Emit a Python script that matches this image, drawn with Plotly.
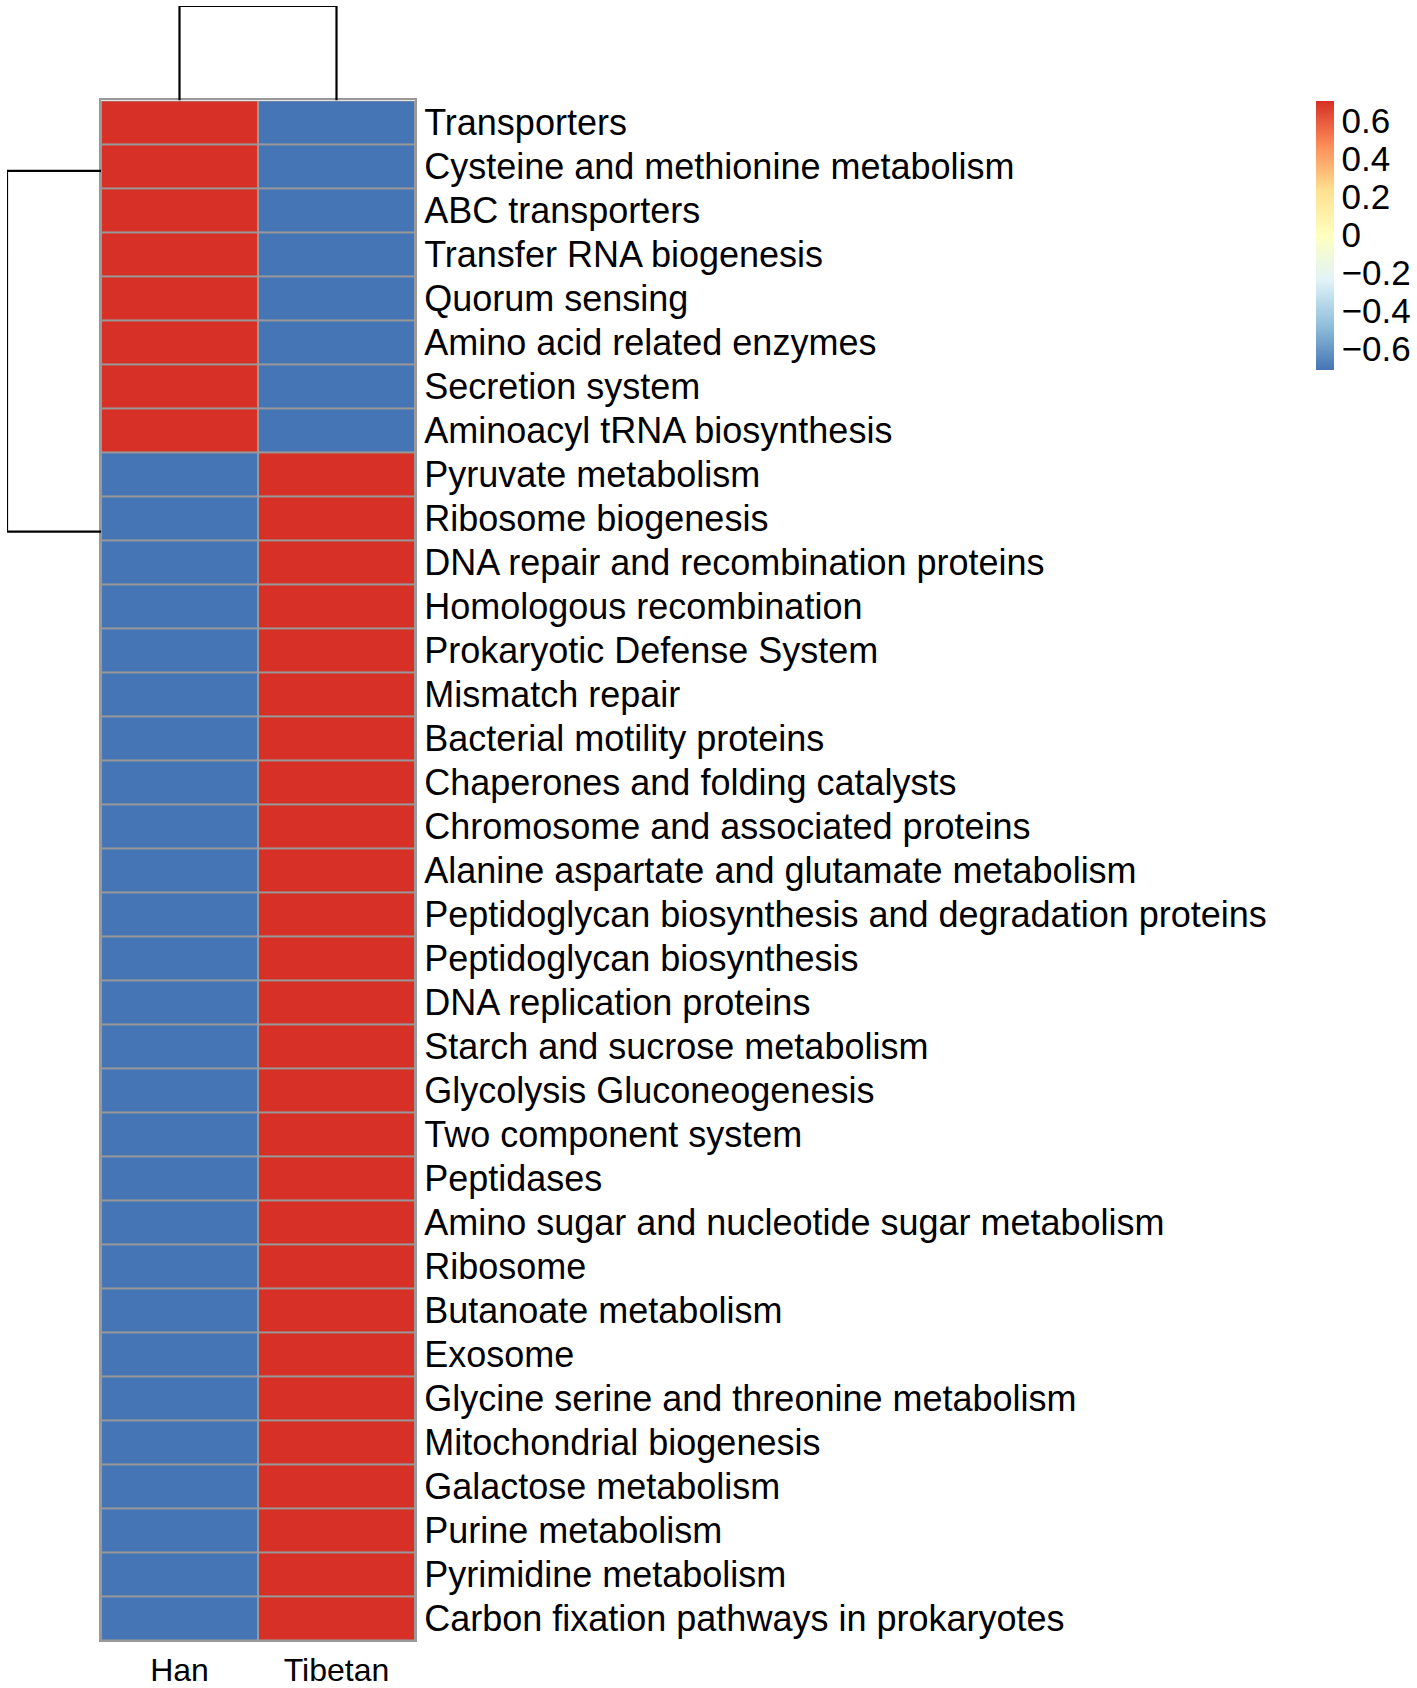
import plotly.graph_objects as go

W, H = 1417, 1688

pathways = [
    "Transporters", "Cysteine and methionine metabolism", "ABC transporters",
    "Transfer RNA biogenesis", "Quorum sensing", "Amino acid related enzymes",
    "Secretion system", "Aminoacyl tRNA biosynthesis", "Pyruvate metabolism",
    "Ribosome biogenesis", "DNA repair and recombination proteins",
    "Homologous recombination", "Prokaryotic Defense System", "Mismatch repair",
    "Bacterial motility proteins", "Chaperones and folding catalysts",
    "Chromosome and associated proteins", "Alanine aspartate and glutamate metabolism",
    "Peptidoglycan biosynthesis and degradation proteins", "Peptidoglycan biosynthesis",
    "DNA replication proteins", "Starch and sucrose metabolism",
    "Glycolysis Gluconeogenesis", "Two component system", "Peptidases",
    "Amino sugar and nucleotide sugar metabolism", "Ribosome", "Butanoate metabolism",
    "Exosome", "Glycine serine and threonine metabolism", "Mitochondrial biogenesis",
    "Galactose metabolism", "Purine metabolism", "Pyrimidine metabolism",
    "Carbon fixation pathways in prokaryotes",
]
groups = ["Han", "Tibetan"]

# row-scaled values (z-scores across the two groups)
han = [0.7071] * 8 + [-0.7071] * 27
tibetan = [-0.7071] * 8 + [0.7071] * 27

# dendrogram data
col_leaf_pos = [0, 1]
col_merge_height = 1.0
row_branch_pos = [1.1, 9.3]   # positions of the two row clusters (row units)
row_merge_height = 1.0

cbar_ticks = [0.6, 0.4, 0.2, 0, -0.2, -0.4, -0.6]
cbar_ticktext = ["0.6", "0.4", "0.2", "0", "\u22120.2", "\u22120.4", "\u22120.6"]

colorscale = [
    [0.0, "#4575B4"], [1/6, "#91BFDB"], [2/6, "#E0F3F8"], [3/6, "#FFFFBF"],
    [4/6, "#FEE090"], [5/6, "#FC8D59"], [1.0, "#D73027"],
]

FONT = "Liberation Sans, Arial, sans-serif"

def px_x(p):
    return p / W

def px_y(p):
    return 1 - p / H

hm_left, hm_right, hm_top, hm_bottom = 101, 415, 101, 1650

z = [[h, t] for h, t in zip(han, tibetan)]

fig = go.Figure()
fig.add_trace(go.Heatmap(
    z=z, x=groups, y=pathways,
    colorscale=colorscale, zmin=-0.7071, zmax=0.7071,
    xgap=2, ygap=2,
    hoverinfo="skip",
    colorbar=dict(
        x=px_x(1316), xanchor="left", xpad=0,
        y=px_y((101 + 372) / 2), yanchor="middle", ypad=0,
        thickness=18, thicknessmode="pixels",
        len=(372 - 101) / H, lenmode="fraction",
        outlinewidth=0,
        tickvals=cbar_ticks, ticktext=cbar_ticktext,
        ticks="", ticklen=0, ticklabelposition="outside",
        tickfont=dict(family=FONT, size=35, color="black"),
    ),
))

# grey grid background behind the heatmap cells
fig.add_shape(
    type="rect", xref="x", yref="y", layer="below",
    x0=-0.5, x1=len(groups) - 0.5, y0=-0.5, y1=len(pathways) - 0.5,
    fillcolor="#999999", line=dict(width=0),
)

# top (column) dendrogram
fig.add_trace(go.Scatter(
    x=[col_leaf_pos[0], col_leaf_pos[0], col_leaf_pos[1], col_leaf_pos[1]],
    y=[0, col_merge_height, col_merge_height, 0],
    mode="lines", line=dict(color="black", width=2.2),
    xaxis="x2", yaxis="y2", hoverinfo="skip", showlegend=False,
))

# left (row) dendrogram
fig.add_trace(go.Scatter(
    x=[0, row_merge_height, row_merge_height, 0],
    y=[row_branch_pos[0], row_branch_pos[0], row_branch_pos[1], row_branch_pos[1]],
    mode="lines", line=dict(color="black", width=2.2),
    xaxis="x3", yaxis="y3", hoverinfo="skip", showlegend=False,
))

fig.update_layout(
    width=W, height=H,
    margin=dict(l=0, r=0, t=0, b=0),
    paper_bgcolor="white", plot_bgcolor="white",
    font=dict(family=FONT, color="black"),
    xaxis=dict(
        domain=[px_x(hm_left), px_x(hm_right)],
        showgrid=False, zeroline=False, ticks="", ticklen=0,
        showline=True, mirror=True, linecolor="#999999", linewidth=2,
        tickfont=dict(family=FONT, size=32, color="black"),
    ),
    yaxis=dict(
        domain=[px_y(hm_bottom), px_y(hm_top)],
        autorange="reversed", side="right",
        showgrid=False, zeroline=False, ticks="", ticklen=0,
        showline=True, mirror=True, linecolor="#999999", linewidth=2,
        tickfont=dict(family=FONT, size=36, color="black"),
    ),
    xaxis2=dict(
        domain=[px_x(hm_left), px_x(hm_right)], anchor="y2",
        range=[-0.5, 1.5], visible=False,
    ),
    yaxis2=dict(
        domain=[px_y(hm_top), px_y(6)], anchor="x2",
        range=[0, col_merge_height], visible=False,
    ),
    xaxis3=dict(
        domain=[px_x(7), px_x(hm_left)], anchor="y3",
        range=[row_merge_height, 0], visible=False,
    ),
    yaxis3=dict(
        domain=[px_y(hm_bottom), px_y(hm_top)], anchor="x3",
        range=[len(pathways) - 0.5, -0.5], visible=False,
    ),
)

fig.write_html(
    "out.html",
    config={"displayModeBar": False},
    post_script="document.body.style.margin='0';",
)
